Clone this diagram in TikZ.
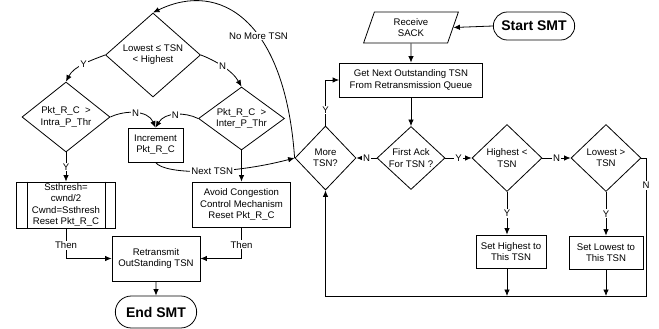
\documentclass[tikz,border=0pt]{standalone}
\usepackage{fontspec}
\setmainfont{Liberation Sans}
\usetikzlibrary{arrows.meta,shapes.geometric,shapes.misc}
\tikzset{
  every node/.style={font=\fontsize{9.6}{11.2}\selectfont},
  process/.style={draw, rectangle, line width=.8pt, align=center, inner sep=1.5pt},
  predef/.style={process, inner sep=.5pt},
  decision/.style={draw, diamond, aspect=1.3, line width=.8pt, align=center,
    inner sep=0pt},
  inout/.style={draw, trapezium, trapezium left angle=75, trapezium right angle=105,
    trapezium stretches=true, line width=.8pt, align=center, inner sep=1pt},
  terminal/.style={draw, rounded rectangle, line width=.8pt,
    font=\fontsize{14}{16}\selectfont\bfseries},
  flow/.style={-{Latex[length=6.5pt,width=5.5pt]}, line width=.8pt},
  tinylabel/.style={fill=white, inner sep=1pt}
}

\begin{document}
\begin{tikzpicture}[x=1pt,y=-1pt]
\useasboundingbox (0,0) rectangle (659,329);

% ---------------------------------------------------------------------------
% Right part: entry, next TSN and the Highest / Lowest bookkeeping.
% ---------------------------------------------------------------------------
\node[terminal, minimum width=88pt, minimum height=28pt] (start) at (534,26) {Start SMT};
\node[inout, minimum width=95pt, minimum height=31pt] (sack) at (411,27.5)
  {Receive\\SACK};
\node[process, minimum width=143pt, minimum height=34pt] (getnext) at (411,80)
  {Get Next Outstanding TSN\\From Retransmission Queue};
\node[decision, minimum width=68pt, minimum height=63pt] (firstack) at (411,158)
  {First Ack\\For TSN ?};
\node[decision, minimum width=70pt, minimum height=67pt] (highest) at (507,158)
  {Highest <\\TSN};
\node[decision, minimum width=70pt, minimum height=67pt] (lowest) at (606,158)
  {Lowest >\\TSN};
\node[process, minimum width=70pt, minimum height=33pt] (sethigh) at (511,251.5)
  {Set Highest to\\This TSN};
\node[process, minimum width=74pt, minimum height=33pt] (setlow) at (606,252.5)
  {Set Lowest to\\This TSN};
\node[decision, minimum width=61pt, minimum height=64pt] (more) at (325.5,158)
  {More\\TSN?};

\coordinate (loopR) at (646,296);
\coordinate (loopL) at (325.5,296);

\draw[flow] (start.west) -- (sack.east);
\draw[flow] (sack) -- (getnext);
\draw[flow] (getnext) -- (firstack);
\draw[flow] (firstack) -- node[tinylabel]{Y} (highest);
\draw[flow] (highest) -- node[tinylabel]{N} (lowest);
\draw[flow] (firstack) -- node[tinylabel]{N} (more);
\draw[flow] (highest.south) -- node[tinylabel]{Y} (highest.south |- sethigh.north);
\draw[flow] (lowest) -- node[tinylabel]{Y} (setlow);
\draw[flow] (highest.south |- sethigh.south) -- (highest.south |- loopL);
\draw[flow] (setlow.south) -- (setlow.south |- loopL);
\draw[flow] (lowest.east) -| node[tinylabel, pos=.6]{N} (loopR) -- (loopL) -- (more.south);
\draw[flow] (more.north) |- node[tinylabel, pos=.17]{Y} (getnext.west);

% ---------------------------------------------------------------------------
% Left part: threshold tests, congestion handling and retransmission.
% ---------------------------------------------------------------------------
\node[decision, minimum width=95pt, minimum height=84pt] (lowestle) at (153,55)
  {Lowest ≤ TSN\\< Highest};
\node[decision, minimum width=88pt, minimum height=70pt] (intra) at (66,117)
  {Pkt\_R\_C~~>\\Intra\_P\_Thr};
\node[decision, minimum width=86pt, minimum height=63pt] (inter) at (241.5,118.5)
  {Pkt\_R\_C~~>\\Inter\_P\_Thr};
\node[process, minimum width=55pt, minimum height=34pt] (incr) at (155.5,145)
  {Increment\\Pkt\_R\_C};
\node[predef, minimum width=99pt, minimum height=46pt] (ss) at (66,205)
  {Ssthresh=\\cwnd/2\\Cwnd=Ssthresh\\Reset Pkt\_R\_C};
\node[process, minimum width=98pt, minimum height=45pt] (avoid) at (241.5,204.5)
  {Avoid Congestion\\Control Mechanism\\Reset Pkt\_R\_C};
\node[process, minimum width=88pt, minimum height=45pt] (retx) at (156,258.5)
  {Retransmit\\OutStanding TSN};
\node[terminal, minimum width=88pt, minimum height=32pt] (endsmt) at (156,312) {End SMT};

\draw ([xshift=11pt]ss.north west) -- ([xshift=11pt]ss.south west);
\draw ([xshift=-11pt]ss.north east) -- ([xshift=-11pt]ss.south east);

\draw[flow] (more.west) .. controls (285,20) and (220,-20) ..
  node[tinylabel, pos=.41]{No More TSN} (lowestle.north);
\draw[flow] (lowestle.west) .. controls (92,60) and (74,66) ..
  node[tinylabel]{Y} (intra.north);
\draw[flow] (lowestle.east) .. controls (214,60) and (232,70) ..
  node[tinylabel]{N} (inter.north);
\draw[flow] (intra.east) .. controls (125,110) and (148,110) ..
  node[tinylabel]{N} (incr.north);
\draw[flow] (inter.west) .. controls (185,112) and (165,112) ..
  node[tinylabel]{N} (incr.north);
\draw[flow] (intra) -- node[tinylabel]{Y} (ss);
\draw[flow] (inter) -- (avoid);
\draw[flow] (incr.south) .. controls (165,175) and (230,175) ..
  node[tinylabel, pos=.55]{Next TSN} (more.west);
\draw[flow] (ss.south) |- node[tinylabel, pos=.28]{Then} (retx.west);
\draw[flow] (avoid.south) |- node[tinylabel, pos=.28]{Then} (retx.east);
\draw[flow] (retx) -- (endsmt);

\end{tikzpicture}
\end{document}
